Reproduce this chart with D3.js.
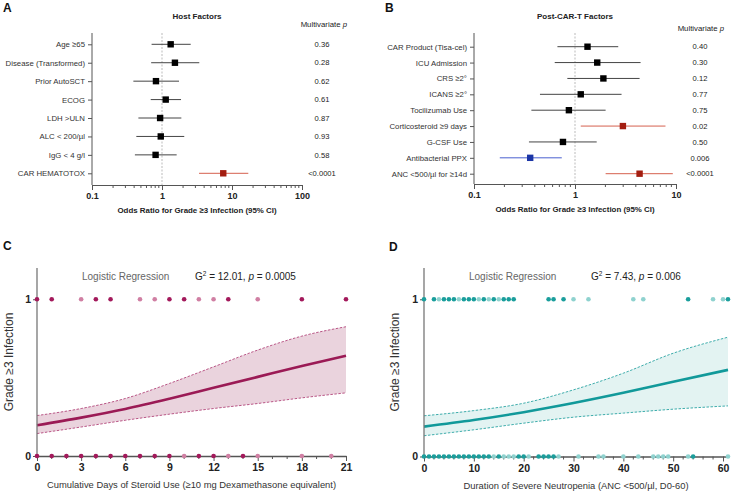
<!DOCTYPE html>
<html>
<head>
<meta charset="utf-8">
<style>
  body {margin: 0; background: #fff; font-family: "Liberation Sans", Arial, sans-serif;}
  svg text {font-family: "Liberation Sans", Arial, sans-serif;}
</style>
<script src="https://d3js.org/d3.v7.min.js"></script>
</head>
<body>
<div id="chart"></div>
<script>

// ---- panel A: host factors (odds ratio, 95% CI, multivariate p)
const hostLabels = ['Age \u226565', 'Disease (Transformed)', 'Prior AutoSCT', 'ECOG',
  'LDH >ULN', 'ALC < 200/\u00b5l', 'IgG < 4 g/l', 'CAR HEMATOTOX']
const hostOR = [1.33, 1.53, 0.82, 1.13, 0.94, 0.96, 0.81, 7.5]
const hostLo = [0.71, 0.70, 0.39, 0.69, 0.46, 0.43, 0.41, 3.38]
const hostHi = [2.57, 3.41, 1.75, 1.87, 1.89, 2.08, 1.62, 17.1]
const hostP = ['0.36', '0.28', '0.62', '0.61', '0.87', '0.93', '0.58', '<0.0001']
const hostTicks = [0.1, 1, 10, 100]

// ---- panel B: post-CAR-T factors
const postLabels = ['CAR Product (Tisa-cel)', 'ICU Admission', 'CRS \u22652\u00b0', 'ICANS \u22652\u00b0',
  'Tocilizumab Use', 'Corticosteroid \u22659 days', 'G-CSF Use', 'Antibacterial PPX', 'ANC <500/\u00b5l for \u226514d']
const postOR = [1.33, 1.66, 1.91, 1.14, 0.87, 2.98, 0.76, 0.36, 4.36]
const postLo = [0.67, 0.63, 0.84, 0.45, 0.37, 1.14, 0.35, 0.18, 2.01]
const postHi = [2.68, 4.46, 4.36, 2.89, 2.01, 7.87, 1.64, 0.74, 9.3]
const postP = ['0.40', '0.30', '0.12', '0.77', '0.75', '0.02', '0.50', '0.006', '<0.0001']
const postTicks = [0.1, 1, 10]

// ---- panel C: steroid days vs grade >=3 infection
const steroidDays = [0, 3, 6, 9, 12, 15, 18, 21]
const steroidFit = [0.196, 0.245, 0.30, 0.365, 0.435, 0.505, 0.575, 0.64]
const steroidUpper = [0.258, 0.303, 0.367, 0.463, 0.569, 0.676, 0.765, 0.825]
const steroidLower = [0.143, 0.185, 0.228, 0.267, 0.303, 0.335, 0.371, 0.403]
const steroidYes = [0, 1, 3, 4, 5, 7, 8, 9, 10, 11, 12, 13, 15, 18, 21]
const steroidYesN = [2, 2, 1, 2, 2, 1, 1, 2, 2, 1, 1, 2, 1, 2, 2]
const steroidNo = [0, 1, 2, 3, 4, 5, 6, 7, 8, 9, 10, 11, 12, 13, 14, 15, 18, 20]
const steroidNoN = [2, 2, 2, 2, 2, 2, 2, 2, 2, 2, 1, 2, 2, 1, 2, 1, 1, 1]
const steroidTicks = [0, 3, 6, 9, 12, 15, 18, 21]

// ---- panel D: neutropenia duration vs grade >=3 infection
const neutDays = [0, 10, 20, 30, 40, 50, 61]
const neutFit = [0.19, 0.232, 0.282, 0.34, 0.405, 0.475, 0.551]
const neutUpper = [0.259, 0.292, 0.339, 0.424, 0.53, 0.657, 0.759]
const neutLower = [0.132, 0.17, 0.212, 0.25, 0.276, 0.301, 0.322]
const neutYes = [0, 2, 3, 4, 5, 6, 7, 8, 9, 10, 11, 12, 13, 14, 15, 16, 17, 18, 25, 26, 28, 30, 33, 42, 44, 53, 58, 60, 61]
const neutYesN = [2, 2, 1, 2, 2, 2, 1, 2, 2, 2, 1, 2, 1, 2, 1, 2, 2, 2, 2, 2, 2, 1, 1, 1, 1, 2, 1, 1, 2]
const neutNo = [0, 1, 2, 3, 4, 5, 6, 7, 8, 9, 10, 11, 12, 13, 14, 15, 16, 17, 18, 19, 20, 21,
  23, 24, 25, 26, 27, 31, 35, 36, 40, 43, 46, 47, 48, 49, 53, 54, 61]
const neutNoN = [2, 2, 2, 2, 2, 2, 2, 2, 2, 2, 2, 2, 2, 2, 1, 2, 1, 1, 1, 2, 2, 1,
  2, 2, 2, 2, 1, 1, 1, 1, 1, 1, 1, 1, 1, 1, 1, 2, 1]
const neutTicks = [0, 10, 20, 30, 40, 50, 60]

const svg = d3.select('#chart').append('svg')
  .attr('width', 736)
  .attr('height', 493)

function panelLetter(t, x, y) {
  svg.append('text').attr('x', x).attr('y', y)
    .attr('font-size', 12).attr('font-weight', 'bold').attr('fill', '#111')
    .text(t)
}

function styleAxis(sel, size) {
  sel.attr('font-family', null).attr('font-size', null)
  sel.select('.domain').attr('stroke', '#555')
  sel.selectAll('.tick line').attr('stroke', '#555')
  sel.selectAll('.tick text').attr('font-size', size).attr('font-weight', 'bold').attr('fill', '#222')
}

function forest(o) {
  const g = svg.append('g')
  const x = d3.scaleLog().domain(o.domain).range(o.xRange)
  const y = d3.scalePoint().domain(o.labels).range(o.yRange)

  // reference line at OR = 1
  g.append('line')
    .attr('x1', x(1)).attr('x2', x(1)).attr('y1', o.top).attr('y2', o.base)
    .attr('stroke', '#aaa').attr('stroke-width', 0.8).attr('stroke-dasharray', '2,1.5')

  // y axis
  g.append('line')
    .attr('x1', o.xRange[0]).attr('x2', o.xRange[0]).attr('y1', o.top).attr('y2', o.base)
    .attr('stroke', '#555')
  const ya = g.append('g')
    .attr('transform', 'translate(' + o.xRange[0] + ',0)')
    .call(d3.axisLeft(y).tickSize(4).tickPadding(3).tickSizeOuter(0))
  styleAxis(ya, 7.8)
  ya.select('.domain').remove()
  ya.selectAll('.tick text').attr('font-weight', 'normal').attr('fill', '#333')

  // x axis
  const xa = g.append('g')
    .attr('transform', 'translate(0,' + o.base + ')')
    .call(d3.axisBottom(x).tickValues(o.ticks).tickFormat(d => d).tickSize(5).tickSizeOuter(0).tickPadding(3))
  styleAxis(xa, 9)

  let minors = []
  o.ticks.slice(0, -1).forEach(t => {
    for (let k = 2; k < 10; k++) minors.push(t * k)
  })
  g.append('g').selectAll('line')
    .data(minors).join('line')
    .attr('x1', d => x(d)).attr('x2', d => x(d))
    .attr('y1', o.base).attr('y2', o.base + 3)
    .attr('stroke', '#555')

  const rows = o.labels.map((l, i) => ({
    label: l, or: o.or[i], lo: o.lo[i], hi: o.hi[i], p: o.p[i],
    sig: parseFloat(o.p[i].replace('<', '')) < 0.05
  }))
  const lineCol = d => !d.sig ? '#444' : (d.or > 1 ? '#d5604e' : '#4a5fcf')
  const boxCol = d => !d.sig ? '#000' : (d.or > 1 ? '#a31d10' : '#1b35a6')

  g.append('g').selectAll('line')
    .data(rows).join('line')
    .attr('x1', d => x(d.lo)).attr('x2', d => x(d.hi))
    .attr('y1', d => y(d.label)).attr('y2', d => y(d.label))
    .attr('stroke', lineCol).attr('stroke-width', 1)

  const s = 6.4
  g.append('g').selectAll('rect')
    .data(rows).join('rect')
    .attr('x', d => x(d.or) - s / 2).attr('y', d => y(d.label) - s / 2)
    .attr('width', s).attr('height', s)
    .attr('fill', boxCol)

  g.append('g').selectAll('text')
    .data(rows).join('text')
    .attr('x', o.pX).attr('y', d => y(d.label) + 2.7)
    .attr('text-anchor', 'middle').attr('font-size', 7.6).attr('fill', '#222')
    .text(d => d.p)

  const mv = g.append('text')
    .attr('x', o.mvX).attr('y', o.mvY)
    .attr('text-anchor', 'end').attr('font-size', 7.8).attr('fill', '#222')
  mv.append('tspan').text('Multivariate ')
  mv.append('tspan').attr('font-style', 'italic').text('p')

  g.append('text')
    .attr('x', o.titleX).attr('y', 18.5)
    .attr('text-anchor', 'middle').attr('font-size', 8).attr('font-weight', 'bold').attr('fill', '#222')
    .text(o.title)

  g.append('text')
    .attr('x', (o.xRange[0] + o.xRange[1]) / 2).attr('y', o.base + 28)
    .attr('text-anchor', 'middle').attr('font-size', 7.9).attr('font-weight', 'bold').attr('fill', '#222')
    .text('Odds Ratio for Grade \u22653 Infection (95% CI)')
}

function logistic(o) {
  const g = svg.append('g')
  const x = d3.scaleLinear().domain(o.domain).range(o.xRange)
  const y = d3.scaleLinear().domain([0, 1]).range([o.base, o.one])
  const pts = o.days.map((d, i) => ({d: d, fit: o.fit[i], up: o.upper[i], lo: o.lower[i]}))

  g.append('path')
    .datum(pts)
    .attr('d', d3.area().x(d => x(d.d)).y0(d => y(d.lo)).y1(d => y(d.up)).curve(d3.curveMonotoneX))
    .attr('fill', o.band)

  ;['up', 'lo'].forEach(k => {
    g.append('path')
      .datum(pts)
      .attr('d', d3.line().x(d => x(d.d)).y(d => y(d[k])).curve(d3.curveMonotoneX))
      .attr('fill', 'none').attr('stroke', o.dash).attr('stroke-width', 0.9)
      .attr('stroke-dasharray', '2.5,1.5')
  })

  g.append('path')
    .datum(pts)
    .attr('d', d3.line().x(d => x(d.d)).y(d => y(d.fit)).curve(d3.curveMonotoneX))
    .attr('fill', 'none').attr('stroke', o.color).attr('stroke-width', 2.6)

  // axes
  g.append('line')
    .attr('x1', o.xRange[0]).attr('x2', o.xRange[0]).attr('y1', o.top).attr('y2', o.base)
    .attr('stroke', '#777').attr('stroke-width', 1.3)
  const ya = g.append('g')
    .attr('transform', 'translate(' + o.xRange[0] + ',0)')
    .call(d3.axisLeft(y).tickValues([0, 1]).tickFormat(d3.format('d')).tickSize(4).tickPadding(2).tickSizeOuter(0))
  styleAxis(ya, 10.5)
  ya.select('.domain').remove()

  const xa = g.append('g')
    .attr('transform', 'translate(0,' + o.base + ')')
    .call(d3.axisBottom(x).tickValues(o.ticks).tickSize(5).tickSizeOuter(0).tickPadding(3))
  styleAxis(xa, 10.5)
  xa.select('.domain').attr('stroke-width', 1.3)

  g.append('g').selectAll('line')
    .data(d3.range(o.domain[0], o.domain[1] + 0.01, o.minor).filter(d => o.ticks.indexOf(d) < 0))
    .join('line')
    .attr('x1', d => x(d)).attr('x2', d => x(d))
    .attr('y1', o.base).attr('y2', o.base + 3)
    .attr('stroke', '#555')

  // patients
  const dots = o.yes.map((d, i) => ({d: d, v: 1, n: o.yesN[i]}))
    .concat(o.no.map((d, i) => ({d: d, v: 0, n: o.noN[i]})))
  g.append('g').selectAll('circle')
    .data(dots).join('circle')
    .attr('cx', d => x(d.d)).attr('cy', d => y(d.v))
    .attr('r', 2.3)
    .attr('fill', d => d.n > 1 ? o.dark : o.light)

  g.append('text')
    .attr('x', o.xRange[0] + 45).attr('y', 280)
    .attr('font-size', 10).attr('fill', '#666')
    .text('Logistic Regression')

  const gt = g.append('text')
    .attr('x', o.gX).attr('y', 280)
    .attr('font-size', 10).attr('fill', '#222')
  gt.append('tspan').text('G')
  gt.append('tspan').attr('font-size', 6.5).attr('dy', -4).text('2')
  gt.append('tspan').attr('dy', 4).text(' = ' + o.g2 + ', ')
  gt.append('tspan').attr('font-style', 'italic').text('p')
  gt.append('tspan').text(' = ' + o.p)

  g.append('text')
    .attr('transform', 'translate(' + o.yTitleX + ',' + (o.top + o.base) / 2 + ') rotate(-90)')
    .attr('text-anchor', 'middle').attr('font-size', 12).attr('fill', '#333')
    .text('Grade \u22653 Infection')

  g.append('text')
    .attr('x', (o.xRange[0] + o.xRange[1]) / 2).attr('y', o.base + 32)
    .attr('text-anchor', 'middle').attr('font-size', 9.4).attr('fill', '#333')
    .text(o.xTitle)
}

panelLetter('A', 3, 12)
panelLetter('B', 385, 12)
panelLetter('C', 3, 250)
panelLetter('D', 389, 251)

forest({
  labels: hostLabels, or: hostOR, lo: hostLo, hi: hostHi, p: hostP, ticks: hostTicks,
  domain: [0.1, 100], xRange: [92, 302], yRange: [44.3, 173.3], top: 33, base: 185,
  pX: 322, mvX: 347, mvY: 27, titleX: 197, title: 'Host Factors'
})

forest({
  labels: postLabels, or: postOR, lo: postLo, hi: postHi, p: postP, ticks: postTicks,
  domain: [0.1, 10], xRange: [474, 676], yRange: [46.7, 173.7], top: 33, base: 184,
  pX: 700, mvX: 724, mvY: 31, titleX: 575, title: 'Post-CAR-T Factors'
})

logistic({
  days: steroidDays, fit: steroidFit, upper: steroidUpper, lower: steroidLower,
  yes: steroidYes, yesN: steroidYesN, no: steroidNo, noN: steroidNoN,
  ticks: steroidTicks, minor: 1, domain: [0, 21], xRange: [37, 346],
  base: 456, one: 299.3, top: 268, yTitleX: 13,
  color: '#9b1a55', dash: '#b2467a', band: '#ead3dd', dark: '#a3195b', light: '#d07fa3',
  gX: 195, g2: '12.01', p: '0.0005',
  xTitle: 'Cumulative Days of Steroid Use (\u226510 mg Dexamethasone equivalent)'
})

logistic({
  days: neutDays, fit: neutFit, upper: neutUpper, lower: neutLower,
  yes: neutYes, yesN: neutYesN, no: neutNo, noN: neutNoN,
  ticks: neutTicks, minor: 2, domain: [0, 61], xRange: [424, 728],
  base: 456.5, one: 299.3, top: 268, yTitleX: 399,
  color: '#11999a', dash: '#2aa4a3', band: '#e3f3f2', dark: '#1a9e9c', light: '#8fd2cf',
  gX: 591, g2: '7.43', p: '0.006',
  xTitle: 'Duration of Severe Neutropenia (ANC <500/\u00b5l, D0-60)'
})

</script>
</body>
</html>
